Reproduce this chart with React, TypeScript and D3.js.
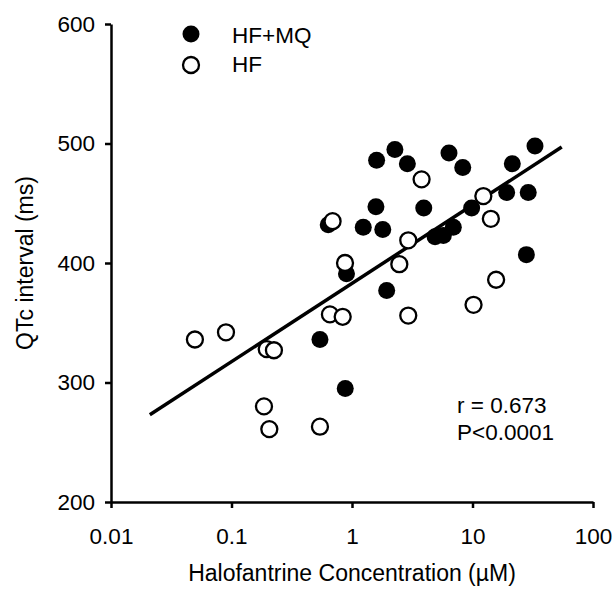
import { useEffect, useRef } from 'react'
import * as d3 from 'd3'

// HF+MQ group (filled circles): concentration (µM) and QTc (ms)
const hfmqConc = [1.6, 2.27, 2.88, 6.38, 8.3, 21.4, 33, 1.58, 3.94, 0.635, 1.24, 1.8, 9.84, 19.2, 29, 4.89, 5.73, 6.93, 0.9, 1.94, 28, 0.542, 0.879]
const hfmqQtc = [486, 495, 483, 492, 480, 483, 498, 447, 446, 432, 430, 428, 446, 459, 459, 422, 423, 430, 391, 377, 407, 336, 295]

// HF group (open circles)
const hfConc = [0.69, 3.78, 12.3, 14.2, 2.93, 0.875, 2.47, 15.7, 10.2, 2.93, 0.656, 0.837, 0.0497, 0.09, 0.196, 0.225, 0.186, 0.206, 0.542]
const hfQtc = [435, 470, 456, 437, 419, 400, 399, 386, 365, 356, 357, 355, 336, 342, 328, 327, 280, 261, 263]

// regression line end points
const fitConc = [0.021, 55]
const fitQtc = [273, 497]

const xTicks = [0.01, 0.1, 1, 10, 100]
const yTicks = [200, 300, 400, 500, 600]

const FONT = '"Liberation Sans", Arial, sans-serif'

export default function App() {
  const svgRef = useRef<SVGSVGElement>(null)

  useEffect(() => {
    if (!svgRef.current) return
    const svg = d3.select(svgRef.current)
    svg.selectAll('*').remove()

    const x = d3.scaleLog().domain([0.01, 100]).range([111, 593])
    const y = d3.scaleLinear().domain([200, 600]).range([502, 24])

    // axes
    const xAxis = svg
      .append('g')
      .attr('transform', `translate(0,${y(200)})`)
      .call(
        d3.axisBottom(x)
          .tickValues(xTicks)
          .tickFormat(d => String(d))
          .tickSizeInner(6)
          .tickSizeOuter(0)
          .tickPadding(20)
      )
    const yAxis = svg
      .append('g')
      .attr('transform', `translate(${x(0.01)},0)`)
      .call(
        d3.axisLeft(y)
          .tickValues(yTicks)
          .tickSizeInner(6)
          .tickSizeOuter(0)
          .tickPadding(10)
      )
    for (const g of [xAxis, yAxis]) {
      g.select('.domain').attr('stroke', '#000').attr('stroke-width', 2.5)
      g.selectAll('.tick line').attr('stroke', '#000').attr('stroke-width', 2.5)
      g.selectAll('.tick text')
        .attr('fill', '#000')
        .attr('font-family', FONT)
        .attr('font-size', 22.5)
    }

    // regression line
    const line = d3
      .line<number>()
      .x((_, i) => x(fitConc[i]))
      .y(d => y(d))
    svg
      .append('path')
      .attr('d', line(fitQtc))
      .attr('fill', 'none')
      .attr('stroke', '#000')
      .attr('stroke-width', 3.5)

    // filled points
    svg
      .append('g')
      .selectAll('circle')
      .data(hfmqConc)
      .join('circle')
      .attr('cx', d => x(d))
      .attr('cy', (_, i) => y(hfmqQtc[i]))
      .attr('r', 8.5)
      .attr('fill', '#000')

    // open points
    svg
      .append('g')
      .selectAll('circle')
      .data(hfConc)
      .join('circle')
      .attr('cx', d => x(d))
      .attr('cy', (_, i) => y(hfQtc[i]))
      .attr('r', 8)
      .attr('fill', '#fff')
      .attr('stroke', '#000')
      .attr('stroke-width', 2.3)

    // legend
    svg.append('circle').attr('cx', 191).attr('cy', 34).attr('r', 8.5).attr('fill', '#000')
    svg
      .append('circle')
      .attr('cx', 191)
      .attr('cy', 65)
      .attr('r', 8)
      .attr('fill', '#fff')
      .attr('stroke', '#000')
      .attr('stroke-width', 2.3)

    const texts = [
      { t: 'HF+MQ', x: 232, y: 42.5 },
      { t: 'HF', x: 232, y: 72 },
      { t: 'r = 0.673', x: 457, y: 413 },
      { t: 'P<0.0001', x: 457, y: 440 },
    ]
    svg
      .append('g')
      .selectAll('text')
      .data(texts)
      .join('text')
      .attr('x', d => d.x)
      .attr('y', d => d.y)
      .attr('font-family', FONT)
      .attr('font-size', 22.5)
      .attr('fill', '#000')
      .text(d => d.t)

    // axis titles
    svg
      .append('text')
      .attr('x', 352)
      .attr('y', 581)
      .attr('text-anchor', 'middle')
      .attr('font-family', FONT)
      .attr('font-size', 23)
      .text('Halofantrine Concentration (µM)')

    svg
      .append('text')
      .attr('transform', `translate(33,263) rotate(-90)`)
      .attr('text-anchor', 'middle')
      .attr('font-family', FONT)
      .attr('font-size', 23)
      .text('QTc interval (ms)')
  }, [])

  return (
    <svg
      ref={svgRef}
      width={614}
      height={590}
      style={{ position: 'absolute', left: 0, top: 0, background: '#fff' }}
    />
  )
}
